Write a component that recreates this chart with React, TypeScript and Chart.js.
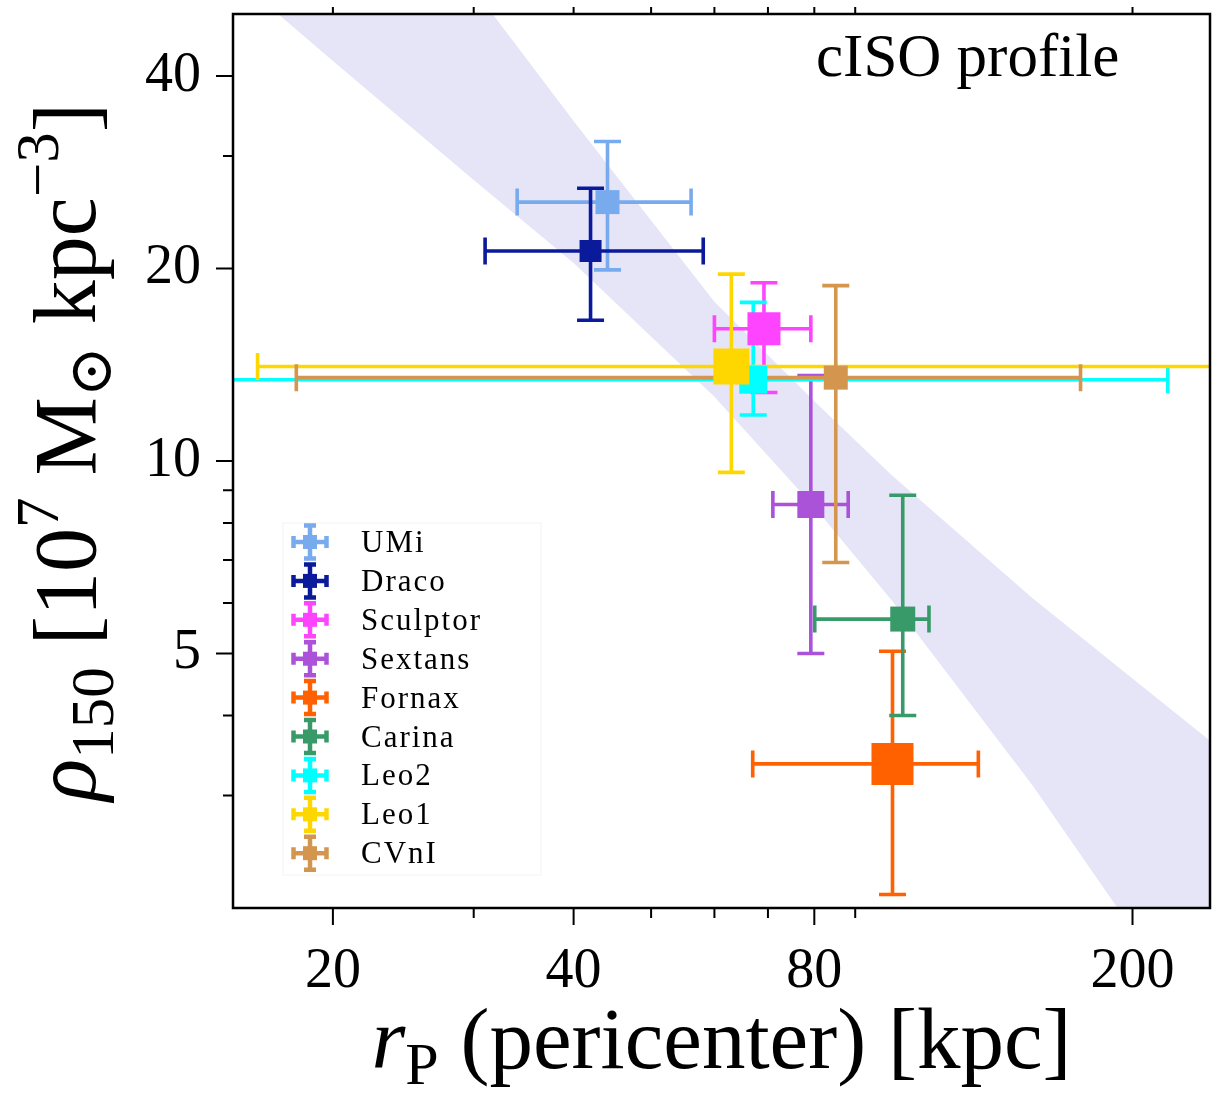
import React, { useEffect, useRef } from 'react';
import { Chart, registerables } from 'chart.js';

Chart.register(...registerables);

// ---------------- data ----------------
const galaxyNames = ['UMi', 'Draco', 'Sculptor', 'Sextans', 'Fornax', 'Carina', 'Leo2', 'Leo1', 'CVnI'];
const galaxyColors = ['#78aaee', '#0b1a9b', '#ff44ff', '#aa52d8', '#ff6000', '#389a68', '#00ffff', '#ffd700', '#d4964f'];
const pericenter = [44.1, 42.0, 69.2, 79.2, 100.2, 103.2, 67.1, 63.0, 85.1];
const pericenterLow = [34.0, 31.0, 60.0, 71.0, 67.0, 80.1, 12.0, 16.1, 18.0];
const pericenterHigh = [56.1, 58.1, 79.2, 88.2, 128.3, 111.3, 221.4, 300.0, 172.2];
const rho150 = [25.4, 21.3, 16.1, 8.55, 3.36, 5.66, 13.4, 14.05, 13.5];
const rho150Low = [19.9, 16.6, 12.8, 5.0, 2.1, 4.0, 11.8, 9.6, 6.94];
const rho150High = [31.6, 26.7, 19.0, 13.6, 5.04, 8.84, 17.7, 19.6, 18.8];
const markerSide = [24, 22, 33, 27, 42, 25, 28, 36, 24];

// confidence band edges
const bandX = [14, 20, 30, 40, 60, 80, 100, 150, 200, 260];
const bandUpper = [199, 108, 54.7, 34.0, 17.75, 12.4, 9.5, 6.1, 4.57, 3.51];
const bandLower = [61.9, 42.2, 27.5, 20.4, 12.6, 8.47, 6.05, 3.11, 1.85, 1.11];

const xMajorTicks = [20, 40, 80, 200];
const xMinorTicks = [30, 50, 60, 70, 90];
const yMajorTicks = [5, 10, 20, 40];
const yMinorTicks = [3, 4, 6, 7, 8, 9, 30];

const annotationText = 'cISO profile';

// ---------------- styles ----------------
const SERIF = '"Liberation Serif", "DejaVu Serif", serif';
const BAND_COLOR = 'rgb(230, 229, 247)';
const FIRST_MARKER_INDEX = 2;

type Part = { text: string; size: number; italic?: boolean; dy?: number };

function partFont(p: Part) {
  return `${p.italic ? 'italic ' : ''}${p.size}px ${SERIF}`;
}

function drawRich(ctx: CanvasRenderingContext2D, parts: Part[], cx: number, y: number) {
  const widths = parts.map((p) => {
    ctx.font = partFont(p);
    return ctx.measureText(p.text).width;
  });
  const total = widths.reduce((a, b) => a + b, 0);
  let x = cx - total / 2;
  ctx.textAlign = 'left';
  ctx.textBaseline = 'alphabetic';
  parts.forEach((p, i) => {
    ctx.font = partFont(p);
    ctx.fillText(p.text, x, y + (p.dy || 0));
    x += widths[i];
  });
}

const customPlugin = {
  id: 'customDecor',
  beforeDatasetDraw(chart: any, args: any) {
    if (args.index !== FIRST_MARKER_INDEX) return;
    const ctx: CanvasRenderingContext2D = chart.ctx;
    const xs = chart.scales.x;
    const ys = chart.scales.y;
    const area = chart.chartArea;
    ctx.save();
    ctx.beginPath();
    ctx.rect(area.left, area.top, area.right - area.left, area.bottom - area.top);
    ctx.clip();
    ctx.lineWidth = 3.6;
    ctx.lineCap = 'butt';
    const cap = 13.5;
    galaxyNames.forEach((_, i) => {
      ctx.strokeStyle = galaxyColors[i];
      const px = xs.getPixelForValue(pericenter[i]);
      const py = ys.getPixelForValue(rho150[i]);
      const x0 = xs.getPixelForValue(pericenterLow[i]);
      const x1 = xs.getPixelForValue(pericenterHigh[i]);
      const y0 = ys.getPixelForValue(rho150Low[i]);
      const y1 = ys.getPixelForValue(rho150High[i]);
      ctx.beginPath();
      ctx.moveTo(x0, py); ctx.lineTo(x1, py);
      ctx.moveTo(x0, py - cap); ctx.lineTo(x0, py + cap);
      ctx.moveTo(x1, py - cap); ctx.lineTo(x1, py + cap);
      ctx.moveTo(px, y0); ctx.lineTo(px, y1);
      ctx.moveTo(px - cap, y0); ctx.lineTo(px + cap, y0);
      ctx.moveTo(px - cap, y1); ctx.lineTo(px + cap, y1);
      ctx.stroke();
    });
    ctx.restore();
  },
  afterDraw(chart: any) {
    const ctx: CanvasRenderingContext2D = chart.ctx;
    const xs = chart.scales.x;
    const ys = chart.scales.y;
    const { left, right, top, bottom } = chart.chartArea;
    ctx.save();
    // frame
    ctx.strokeStyle = '#000';
    ctx.lineWidth = 2.5;
    ctx.strokeRect(left, top, right - left, bottom - top);
    // ticks
    ctx.lineWidth = 2;
    ctx.beginPath();
    xMajorTicks.forEach((v) => {
      const p = xs.getPixelForValue(v);
      ctx.moveTo(p, bottom); ctx.lineTo(p, bottom + 17);
      ctx.moveTo(p, top); ctx.lineTo(p, top - 7);
    });
    xMinorTicks.forEach((v) => {
      const p = xs.getPixelForValue(v);
      ctx.moveTo(p, bottom); ctx.lineTo(p, bottom + 10);
      ctx.moveTo(p, top); ctx.lineTo(p, top - 7);
    });
    yMajorTicks.forEach((v) => {
      const p = ys.getPixelForValue(v);
      ctx.moveTo(left, p); ctx.lineTo(left - 17, p);
    });
    yMinorTicks.forEach((v) => {
      const p = ys.getPixelForValue(v);
      ctx.moveTo(left, p); ctx.lineTo(left - 10, p);
    });
    ctx.stroke();

    ctx.fillStyle = '#000';
    // x title
    drawRich(ctx, [
      { text: 'r', size: 87, italic: true },
      { text: 'P', size: 60, dy: 16 },
      { text: ' (pericenter) [kpc]', size: 87 },
    ], (left + right) / 2, 1068);

    // y title (rotated)
    ctx.save();
    ctx.translate(95, 452);
    ctx.rotate(-Math.PI / 2);
    drawRich(ctx, [
      { text: 'ρ', size: 88, italic: true },
      { text: '150', size: 61, dy: 18 },
      { text: ' [10', size: 88 },
      { text: '7', size: 61, dy: -37 },
      { text: ' M', size: 88 },
      { text: '⊙', size: 61, dy: 16 },
      { text: ' kpc', size: 88 },
      { text: '−3', size: 61, dy: -37 },
      { text: ']', size: 88 },
    ], 0, 0);
    ctx.restore();

    // annotation
    ctx.font = `61px ${SERIF}`;
    ctx.textAlign = 'left';
    ctx.textBaseline = 'alphabetic';
    ctx.fillText(annotationText, 816, 76);

    // legend
    const lx = 283, ly = 523, lw = 258, lh = 352;
    ctx.fillStyle = 'rgba(255,255,255,0.8)';
    ctx.fillRect(lx, ly, lw, lh);
    ctx.strokeStyle = 'rgba(0,0,0,0.05)';
    ctx.lineWidth = 1;
    ctx.strokeRect(lx, ly, lw, lh);
    galaxyNames.forEach((name, i) => {
      const cy = 542 + i * 38.9;
      const cx = 310;
      const h = 16.5;
      const c = 6;
      ctx.strokeStyle = galaxyColors[i];
      ctx.lineWidth = 4.5;
      ctx.beginPath();
      ctx.moveTo(cx - h, cy); ctx.lineTo(cx + h, cy);
      ctx.moveTo(cx, cy - h); ctx.lineTo(cx, cy + h);
      ctx.moveTo(cx - h, cy - c); ctx.lineTo(cx - h, cy + c);
      ctx.moveTo(cx + h, cy - c); ctx.lineTo(cx + h, cy + c);
      ctx.moveTo(cx - c, cy - h); ctx.lineTo(cx + c, cy - h);
      ctx.moveTo(cx - c, cy + h); ctx.lineTo(cx + c, cy + h);
      ctx.stroke();
      ctx.fillStyle = galaxyColors[i];
      ctx.fillRect(cx - 7, cy - 7, 14, 14);
      ctx.fillStyle = '#000';
      ctx.font = `31px ${SERIF}`;
      (ctx as any).letterSpacing = '2px';
      ctx.textAlign = 'left';
      ctx.textBaseline = 'alphabetic';
      ctx.fillText(name, 361, cy + 10);
      (ctx as any).letterSpacing = '0px';
    });
    ctx.restore();
  },
};

export default function App() {
  const canvasRef = useRef<HTMLCanvasElement | null>(null);

  useEffect(() => {
    const canvas = canvasRef.current;
    if (!canvas) return;

    const bandDatasets: any[] = [
      {
        type: 'line',
        label: 'band-lower',
        data: bandX.map((x, i) => ({ x, y: bandLower[i] })),
        borderColor: 'rgba(0,0,0,0)',
        borderWidth: 0,
        pointRadius: 0,
        fill: false,
        tension: 0,
        order: 101,
      },
      {
        type: 'line',
        label: 'band-upper',
        data: bandX.map((x, i) => ({ x, y: bandUpper[i] })),
        borderColor: 'rgba(0,0,0,0)',
        borderWidth: 0,
        pointRadius: 0,
        backgroundColor: BAND_COLOR,
        fill: '-1',
        tension: 0,
        order: 100,
      },
    ];

    const markerDatasets: any[] = galaxyNames.map((name, i) => ({
      type: 'scatter',
      label: name,
      data: [{ x: pericenter[i], y: rho150[i] }],
      pointStyle: 'rect',
      pointRadius: markerSide[i] / Math.SQRT2,
      pointBackgroundColor: galaxyColors[i],
      pointBorderWidth: 0,
      borderWidth: 0,
      order: 20 - i,
    }));

    const tickFont = { family: SERIF, size: 56 };

    const chart = new Chart(canvas, {
      type: 'scatter',
      data: { datasets: [...bandDatasets, ...markerDatasets] },
      options: {
        responsive: false,
        animation: false,
        devicePixelRatio: 1,
        events: [],
        layout: { autoPadding: false, padding: { top: 14, right: 2, left: 0, bottom: 0 } },
        plugins: {
          legend: { display: false },
          tooltip: { enabled: false },
          title: { display: false },
        },
        scales: {
          x: {
            type: 'logarithmic',
            min: 15,
            max: 250,
            position: 'bottom',
            grid: { display: false, drawTicks: false },
            border: { display: false },
            ticks: {
              font: tickFont,
              color: '#000',
              padding: 31,
              maxRotation: 0,
              autoSkip: false,
              callback: (v: any) => String(v),
            },
            afterBuildTicks: (s: any) => {
              s.ticks = xMajorTicks.map((v) => ({ value: v }));
            },
            afterFit: (s: any) => {
              s.height = 187;
              s.paddingLeft = 0;
              s.paddingRight = 0;
              s.paddingTop = 0;
              s.paddingBottom = 0;
            },
          },
          y: {
            type: 'logarithmic',
            min: 2,
            max: 50,
            position: 'left',
            grid: { display: false, drawTicks: false },
            border: { display: false },
            ticks: {
              font: tickFont,
              color: '#000',
              padding: 32,
              autoSkip: false,
              callback: (v: any) => String(v),
            },
            afterBuildTicks: (s: any) => {
              s.ticks = yMajorTicks.map((v) => ({ value: v }));
            },
            afterFit: (s: any) => {
              s.width = 233;
              s.paddingLeft = 0;
              s.paddingRight = 0;
              s.paddingTop = 0;
              s.paddingBottom = 0;
            },
          },
        },
      } as any,
      plugins: [customPlugin as any],
    });

    return () => chart.destroy();
  }, []);

  return (
    <div style={{ position: 'absolute', left: 0, top: 0, width: 1212, height: 1095, background: '#fff' }}>
      <canvas ref={canvasRef} width={1212} height={1095} style={{ width: 1212, height: 1095, display: 'block' }} />
    </div>
  );
}
